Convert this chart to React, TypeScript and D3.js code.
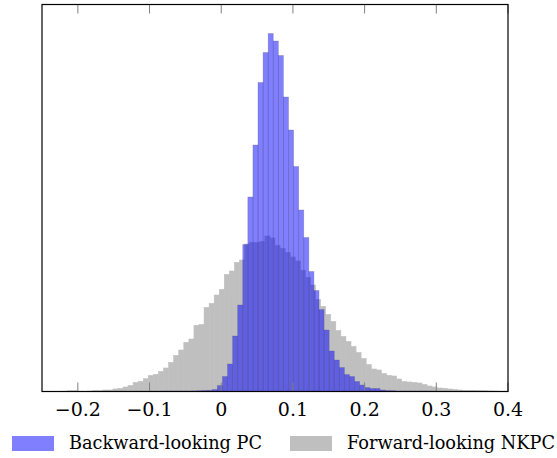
import React, { useEffect, useRef } from 'react';
import * as d3 from 'd3';

// histogram heights (arbitrary units)
const grayStart = -0.25;
const grayWidth = 0.65 / 92;
const grayCounts = [
  0, 0, 0, 0, 0.3, 0.8, 0.8, 0.3, 0.3, 0.5,
  1, 1, 1.5, 1.5, 2.5, 3, 4.5, 6, 9, 10,
  12.8, 16, 17, 20, 23.5, 29, 36, 41.5, 49, 52.5,
  66, 67, 84, 88, 96.5, 102, 117, 120.5, 129, 131.5,
  147.5, 149, 149, 150, 155.5, 153.5, 146, 143, 139, 134.5,
  130.5, 121, 114, 106.5, 92, 85, 77, 70, 61, 55,
  50, 45, 39, 33, 27, 22.5, 21.5, 18, 16, 15.5,
  12.5, 10, 9.5, 9, 8.5, 7, 5.5, 4.5, 3.5, 3.2,
  2.5, 2, 1.5, 1.2, 1, 1, 1, 0.8, 0.6, 0.5,
  0.3, 0.3,
];

const blueStart = -0.1614;
const blueWidth = 0.00709;
const blueCounts = [
  0.3, 0.3, 0.3, 0.3, 0.3, 0.3, 0.3, 0.3, 0.3, 0.3,
  0.3, 0.5, 0.5, 0.5, 0.5, 0.5, 0.5, 0.6, 0.8, 1,
  1.2, 2, 6, 15, 27.5, 55.5, 86.5, 147, 194.5, 246.5,
  309, 339, 358, 350.5, 336, 294.5, 261.5, 225, 181.5, 154,
  120, 101, 82, 61.5, 40.5, 31.5, 24, 17, 15, 10,
  6.5, 4, 3, 3, 1.5, 1, 0.8, 0.5, 0.5, 0.5,
  0.5, 0.5, 0.5, 0.5, 0.5, 0.3, 0.3, 0.3, 0.3, 0.3,
  0.3, 0.3, 0.3,
];

const xTicks = [-0.2, -0.1, 0, 0.1, 0.2, 0.3, 0.4];
const seriesNames = ['Backward-looking PC', 'Forward-looking NKPC'];

const W = 557;
const H = 458;

const App: React.FC = () => {
  const svgRef = useRef<SVGSVGElement>(null);

  useEffect(() => {
    if (!svgRef.current) return;
    const svg = d3.select(svgRef.current);
    svg.selectAll('*').remove();

    const left = 42, right = 508, top = 4.5, bottom = 391.5;
    const x = d3.scaleLinear().domain([-0.25, 0.4]).range([left, right]);
    const y = d3.scaleLinear().domain([0, 387]).range([bottom, top]);
    const serif = '"DejaVu Serif", serif';

    const plot = svg.append('g');

    // gray (forward-looking) histogram
    plot.selectAll('rect.gray')
      .data(grayCounts)
      .join('rect')
      .attr('class', 'gray')
      .attr('x', (_, i) => x(grayStart + i * grayWidth))
      .attr('width', x(grayWidth) - x(0))
      .attr('y', d => y(d))
      .attr('height', d => y(0) - y(d))
      .attr('fill', '#bfbfbf')
      .attr('stroke', '#bfbfbf')
      .attr('stroke-width', 0.6);

    // blue (backward-looking) histogram, half transparent
    plot.selectAll('rect.blue')
      .data(blueCounts)
      .join('rect')
      .attr('class', 'blue')
      .attr('x', (_, i) => x(blueStart + i * blueWidth))
      .attr('width', x(blueWidth) - x(0))
      .attr('y', d => y(d))
      .attr('height', d => y(0) - y(d))
      .attr('fill', '#0000ff')
      .attr('fill-opacity', 0.5)
      .attr('stroke', '#50507a')
      .attr('stroke-opacity', 0.35)
      .attr('stroke-width', 0.7);

    // tick marks top and bottom, pointing inward
    xTicks.forEach(t => {
      svg.append('line')
        .attr('x1', x(t)).attr('x2', x(t))
        .attr('y1', bottom).attr('y2', bottom - 9)
        .attr('stroke', '#808080').attr('stroke-width', 1);
      svg.append('line')
        .attr('x1', x(t)).attr('x2', x(t))
        .attr('y1', top).attr('y2', top + 9)
        .attr('stroke', '#808080').attr('stroke-width', 1);
      svg.append('text')
        .attr('x', x(t))
        .attr('y', 416)
        .attr('text-anchor', 'middle')
        .style('font-family', serif)
        .attr('font-size', 19)
        .attr('fill', '#000')
        .text(t === 0 ? '0' : (t < 0 ? '\u2212' : '') + Math.abs(t).toString());
    });

    // frame
    svg.append('rect')
      .attr('x', left).attr('y', top)
      .attr('width', right - left).attr('height', bottom - top)
      .attr('fill', 'none')
      .attr('stroke', '#000')
      .attr('stroke-width', 1.2);

    // legend
    const legend = [
      { name: seriesNames[0], color: '#8080ff', bx: 12, tx: 69, w: 193 },
      { name: seriesNames[1], color: '#bfbfbf', bx: 290, tx: 347, w: 208 },
    ];
    legend.forEach(l => {
      svg.append('rect')
        .attr('x', l.bx).attr('y', 436)
        .attr('width', 42).attr('height', 15)
        .attr('fill', l.color);
      svg.append('text')
        .attr('x', l.tx).attr('y', 449)
        .style('font-family', serif)
        .attr('font-size', 18)
        .attr('textLength', l.w)
        .attr('lengthAdjust', 'spacingAndGlyphs')
        .attr('fill', '#000')
        .text(l.name);
    });
  }, []);

  return (
    <svg
      ref={svgRef}
      width={W}
      height={H}
      style={{ position: 'absolute', left: 0, top: 0, background: '#fff' }}
    />
  );
};

export default App;
